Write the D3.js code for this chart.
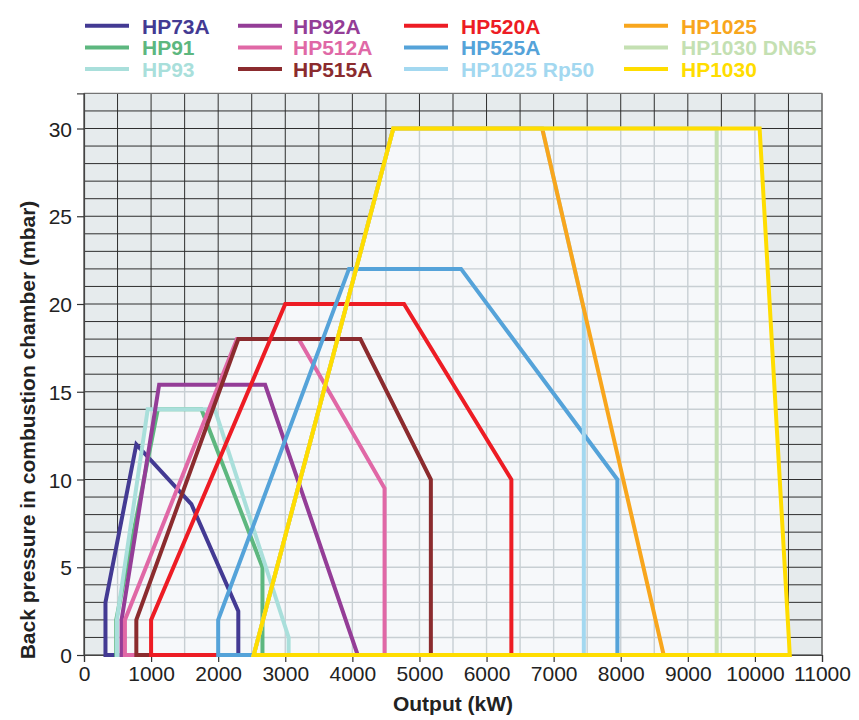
<!DOCTYPE html>
<html>
<head>
<meta charset="utf-8">
<script src="https://cdn.jsdelivr.net/npm/d3@7/dist/d3.min.js"></script>
<style>
  html, body { margin: 0; padding: 0; background: #fff; }
  svg { display: block; }
  text { font-family: "Liberation Sans", Arial, Helvetica, sans-serif; }
</style>
</head>
<body>
<svg id="chart" width="859" height="720"></svg>
<script>
// Burner working fields: output (kW) vs. back pressure in the combustion chamber (mbar)
const seriesNames = ["HP73A", "HP91", "HP93", "HP92A", "HP512A", "HP515A",
                     "HP520A", "HP525A", "HP1025 Rp50", "HP1025", "HP1030 DN65", "HP1030"];
const seriesColors = ["#433a93", "#5db77f", "#a9dfdb", "#943d97", "#e068a6", "#8b2b2e",
                      "#ed1c24", "#55a3d9", "#a3d8f0", "#f8a61d", "#c4e0b2", "#ffdd00"];

// [output kW, back pressure mbar]
const HP73A      = [[320, 0], [320, 3], [780, 12], [1600, 8.6], [2300, 2.5], [2300, 0]];
const HP91       = [[480, 0], [480, 2], [1100, 14], [1750, 14], [2660, 5], [2660, 0]];
const HP93       = [[490, 0], [490, 2], [950, 14], [1950, 14], [3050, 1], [3050, 0]];
const HP92A      = [[560, 0], [560, 2], [1120, 15.4], [2700, 15.4], [4080, 0]];
const HP512A     = [[610, 0], [610, 2], [2280, 18], [3200, 18], [4480, 9.5], [4480, 0]];
const HP515A     = [[780, 0], [780, 2], [2300, 18], [4120, 18], [5170, 10], [5170, 0]];
const HP520A     = [[1000, 0], [1000, 2], [3000, 20], [4770, 20], [6370, 10], [6370, 0]];
const HP525A     = [[2000, 0], [2000, 2], [3950, 22], [5620, 22], [7950, 10], [7950, 0]];
const HP1025Rp50 = [[2530, 0], [4610, 30], [6830, 30], [7450, 19.7], [7450, 0]];
const HP1025     = [[2530, 0], [4610, 30], [6830, 30], [8640, 0]];
const HP1030DN65 = [[2530, 0], [4610, 30], [9430, 30], [9430, 0]];
const HP1030     = [[2530, 0], [4610, 30], [10070, 30], [10520, 0]];

const seriesPoints = [HP73A, HP91, HP93, HP92A, HP512A, HP515A,
                      HP520A, HP525A, HP1025Rp50, HP1025, HP1030DN65, HP1030];

const xTicks = [0, 1000, 2000, 3000, 4000, 5000, 6000, 7000, 8000, 9000, 10000, 11000];
const yTicks = [0, 5, 10, 15, 20, 25, 30];
const xTitle = "Output (kW)";
const yTitle = "Back pressure in combustion chamber (mbar)";

const svg = d3.select("#chart");
const x = d3.scaleLinear().domain([0, 11000]).range([84, 822]);
const y = d3.scaleLinear().domain([0, 32]).range([655, 93.4]);
const [x0, x1] = x.range();
const [y0, y1] = y.range();

const gridX = d3.range(0, 11001, 500);
const gridY = d3.range(0, 33, 1);

// closed outline of each working field (down to the zero-pressure baseline)
const line = d3.line().x(d => x(d[0])).y(d => y(d[1]));
const closed = pts => {
  const p = pts.slice();
  if (p[p.length - 1][1] !== 0) p.push([p[p.length - 1][0], 0]);
  return line(p) + "Z";
};

const defs = svg.append("defs");
defs.append("clipPath").attr("id", "fields")
  .selectAll("path").data(seriesPoints).join("path")
  .attr("d", closed);

// plot background and dark grid
svg.append("rect")
  .attr("x", x0).attr("y", y1).attr("width", x1 - x0).attr("height", y0 - y1)
  .attr("fill", "#e6ebed");

function drawGrid(g, color, width) {
  g.selectAll("line.gx").data(gridX).join("line").attr("class", "gx")
    .attr("x1", d => x(d)).attr("x2", d => x(d))
    .attr("y1", y0).attr("y2", y1)
    .attr("stroke", color).attr("stroke-width", width);
  g.selectAll("line.gy").data(gridY).join("line").attr("class", "gy")
    .attr("x1", x0).attr("x2", x1)
    .attr("y1", d => y(d)).attr("y2", d => y(d))
    .attr("stroke", color).attr("stroke-width", width);
}
drawGrid(svg.append("g"), "#2e2e2e", 1);

// lighter area covered by the working fields
const lightG = svg.append("g").attr("clip-path", "url(#fields)");
lightG.append("rect")
  .attr("x", x0).attr("y", y1).attr("width", x1 - x0).attr("height", y0 - y1)
  .attr("fill", "#f6f8fa");
drawGrid(lightG, "#c8cfd3", 1.4);

// plot frame
svg.append("rect")
  .attr("x", x0).attr("y", y1).attr("width", x1 - x0).attr("height", y0 - y1)
  .attr("fill", "none").attr("stroke", "#7a7a7a").attr("stroke-width", 1);

// axes
const xAxis = d3.axisBottom(x).tickValues(xTicks).tickSize(7).tickPadding(4).tickFormat(d3.format("d"));
const gx = svg.append("g").attr("transform", `translate(0,${y0})`).call(xAxis);
const yAxis = d3.axisLeft(y).tickValues(yTicks).tickSize(7).tickPadding(5).tickFormat(d3.format("d"));
const gy = svg.append("g").attr("transform", `translate(${x0},0)`).call(yAxis);
[gx, gy].forEach(g => {
  g.select(".domain").attr("stroke", "#444").attr("stroke-width", 1.2);
  g.selectAll(".tick line").attr("stroke", "#333").attr("stroke-width", 1.2);
  g.selectAll(".tick text").attr("fill", "#222")
    .style("font-family", '"Liberation Sans", Arial, sans-serif').style("font-size", "21px");
});
gy.selectAll(".tick text").attr("dy", "0.36em");

// working field outlines
svg.append("g").selectAll("path").data(seriesPoints).join("path")
  .attr("d", closed)
  .attr("fill", "none")
  .attr("stroke", (d, i) => seriesColors[i])
  .attr("stroke-width", 4)
  .attr("stroke-linejoin", "miter");

// axis titles
svg.append("text")
  .attr("x", (x0 + x1) / 2).attr("y", 711)
  .attr("text-anchor", "middle")
  .attr("font-size", 21).attr("font-weight", "bold").attr("fill", "#222")
  .text(xTitle);
svg.append("text")
  .attr("transform", "translate(35,430) rotate(-90)")
  .attr("text-anchor", "middle")
  .attr("font-size", 21).attr("font-weight", "bold").attr("fill", "#222")
  .text(yTitle);

// legend: 4 columns x 3 rows
const legCols = [{l: 85, t: 142}, {l: 238, t: 293}, {l: 404, t: 461}, {l: 624, t: 681}];
const legRows = [33.5, 55.2, 76.8];
const leg = svg.append("g");
seriesNames.forEach((name, i) => {
  const c = legCols[Math.floor(i / 3)];
  const base = legRows[i % 3];
  leg.append("line")
    .attr("x1", c.l).attr("x2", c.l + 44)
    .attr("y1", base - 7.8).attr("y2", base - 7.8)
    .attr("stroke", seriesColors[i]).attr("stroke-width", 4);
  leg.append("text")
    .attr("x", c.t).attr("y", base)
    .attr("font-size", 21).attr("font-weight", "bold")
    .attr("fill", seriesColors[i])
    .text(name);
});
</script>
</body>
</html>
